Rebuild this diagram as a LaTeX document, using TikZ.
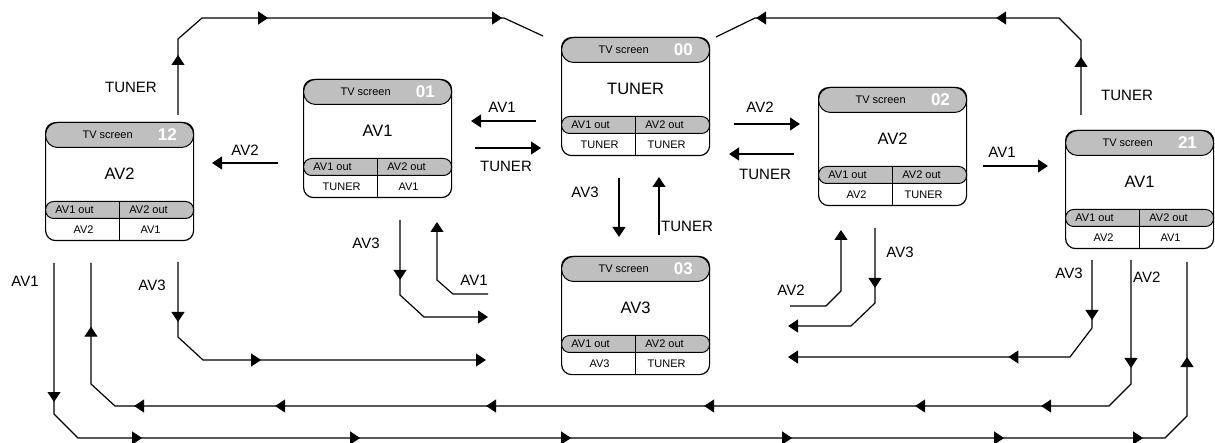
\documentclass[tikz,border=0pt]{standalone}
\usepackage{fontspec}
\setmainfont{Liberation Sans}
\usepackage{xcolor}
\usepackage{tikz}
\usetikzlibrary{arrows.meta, decorations.markings}
\tikzset{
  tvframe/.style={draw, line width=1.2pt, rounded corners=10pt, minimum width=148pt, minimum height=118pt, inner sep=0pt},
  tvhead/.style={draw, fill=gray!50, line width=1pt, rounded corners=12pt, minimum width=148pt, minimum height=25pt, inner sep=0pt},
  tvband/.style={draw, fill=gray!50, line width=1pt, rounded corners=8pt, minimum width=148pt, minimum height=17pt, inner sep=0pt},
  tvsmall/.style={font=\fontsize{11}{13}\selectfont, inner sep=0pt},
  tvmain/.style={font=\fontsize{16.5}{19}\selectfont, inner sep=0pt},
  tvnum/.style={font=\fontsize{17}{19}\selectfont\bfseries, text=white, inner sep=0pt},
  lbl/.style={font=\fontsize{15}{18}\selectfont, inner sep=0pt},
  wire/.style={line width=1.2pt},
  flow/.style={wire, -{Triangle[length=10pt, width=13pt]}},
  mid/.style={postaction={decorate, decoration={markings, mark=at position #1pt with {\arrow{Triangle[length=10pt, width=13pt]}}}}},
}
\newcommand{\tvset}[6]{%
  \node[tvframe, anchor=north west] (#1) at (#2) {};
  \node[tvhead, anchor=north] (#1-head) at (#1.north) {};
  \node[tvsmall] (#1-scr) at ([xshift=-12pt]#1-head.center) {TV screen};
  \node[tvnum, anchor=east] (#1-num) at ([xshift=-17pt]#1-head.east) {#3};
  \node[tvmain] (#1-main) at ([yshift=-52pt]#1.north) {#4};
  \node[tvband, anchor=north] (#1-band) at ([yshift=-79pt]#1.north) {};
  \draw[line width=1pt] (#1-band.north) -- (#1.south);
  \node[tvsmall] (#1-o1) at ([xshift=-45pt]#1-band.center) {AV1 out};
  \node[tvsmall] (#1-o2) at ([xshift=29pt]#1-band.center) {AV2 out};
  \node[tvsmall] (#1-v1) at ([xshift=-36pt,yshift=-11pt]#1-band.south) {#5};
  \node[tvsmall] (#1-v2) at ([xshift=31pt,yshift=-11pt]#1-band.south) {#6};
}

\begin{document}
\begin{tikzpicture}[x=1pt, y=-1pt]
  \useasboundingbox (0,0) rectangle (1215,443);
  \tvset{b12}{45,122}{12}{AV2}{AV2}{AV1}
  \tvset{b01}{303,79}{01}{AV1}{TUNER}{AV1}
  \tvset{b00}{561,37}{00}{TUNER}{TUNER}{TUNER}
  \tvset{b02}{818,87}{02}{AV2}{AV2}{TUNER}
  \tvset{b21}{1065,130}{21}{AV1}{AV2}{AV1}
  \tvset{b03}{561,256}{03}{AV3}{AV3}{TUNER}

  \coordinate (u12) at (178,115);   \coordinate (u00l) at (543,36);
  \coordinate (u21) at (1081,115);  \coordinate (u00r) at (716,37);
  \coordinate (a00w) at (536,121);  \coordinate (a01e) at (471,121);
  \coordinate (t01e) at (475,148);  \coordinate (t00w) at (541,148);
  \coordinate (a01w) at (278,163);  \coordinate (a12e) at (212,163);
  \coordinate (a00e) at (734,124);  \coordinate (a02w) at (800,124);
  \coordinate (t02w) at (794,154);  \coordinate (t00e) at (729,154);
  \coordinate (a02e) at (983,166);  \coordinate (a21w) at (1048,166);
  \coordinate (a00s) at (619,178);  \coordinate (a03n) at (619,237);
  \coordinate (t03n) at (659,235);  \coordinate (t00s) at (659,177);
  \coordinate (d01a) at (400,220);  \coordinate (d03a) at (488,317);
  \coordinate (d03b) at (488,294);  \coordinate (d01b) at (437,222);
  \coordinate (d03c) at (790,306);  \coordinate (d02c) at (841,230);
  \coordinate (d02d) at (875,228);  \coordinate (d03d) at (788,326);
  \coordinate (d21e) at (1092,260); \coordinate (d03e) at (788,357);
  \coordinate (d12f) at (178,262);  \coordinate (d03f) at (486,360);
  \coordinate (d21g) at (1131,260); \coordinate (d12g) at (91,263);
  \coordinate (d12h) at (54,263);   \coordinate (d21h) at (1187,262);

  \draw[wire, mid/.list={60,174,408}] (u12) -- (178,39) -- (202,18) -- (504,18) -- (u00l);
  \draw[wire, mid/.list={58,169,409}] (u21) -- (1081,40) -- (1059,18) -- (755,18) -- (u00r);
  \draw[flow] (a00w) -- (a01e);
  \draw[flow] (t01e) -- (t00w);
  \draw[flow] (a01w) -- (a12e);
  \draw[flow] (a00e) -- (a02w);
  \draw[flow] (t02w) -- (t00e);
  \draw[flow] (a02e) -- (a21w);
  \draw[flow] (a00s) -- (a03n);
  \draw[flow] (t03n) -- (t00s);
  \draw[flow, mid=60] (d01a) -- (400,295) -- (424,317) -- (d03a);
  \draw[flow] (d03b) -- (453,294) -- (437,280) -- (d01b);
  \draw[flow] (d03c) -- (826,306) -- (841,291) -- (d02c);
  \draw[flow, mid=60] (d02d) -- (875,303) -- (851,326) -- (d03d);
  \draw[flow, mid/.list={60,166}] (d21e) -- (1092,328) -- (1070,357) -- (d03e);
  \draw[flow, mid/.list={60,167}] (d12f) -- (178,337) -- (203,360) -- (d03f);
  \draw[wire, mid/.list={108,223,349,560,778,989,1130,1239}] (d21g) -- (1131,384) -- (1109,406) -- (115,406) -- (91,384) -- (d12g);
  \draw[wire, mid/.list={139,249,467,678,899,1111,1250,1362}] (d12h) -- (54,414) -- (78,438) -- (1165,438) -- (1187,416) -- (d21h);

  \node[lbl] (nTunL) at (131,87) {TUNER};
  \node[lbl] (nTunR) at (1127,95) {TUNER};
  \node[lbl] (nAv1a) at (502,107) {AV1};
  \node[lbl] (nTunA) at (506,166) {TUNER};
  \node[lbl] (nAv2a) at (245,150) {AV2};
  \node[lbl] (nAv2b) at (760,107) {AV2};
  \node[lbl] (nTunB) at (765,174) {TUNER};
  \node[lbl] (nAv1b) at (1002,152) {AV1};
  \node[lbl] (nAv3a) at (585,192) {AV3};
  \node[lbl, anchor=west] (nTunC) at (661,226) {TUNER};
  \node[lbl] (nAv3b) at (366,243) {AV3};
  \node[lbl] (nAv1c) at (474,280) {AV1};
  \node[lbl] (nAv3c) at (152,285) {AV3};
  \node[lbl] (nAv1d) at (25,281) {AV1};
  \node[lbl] (nAv2c) at (791,290) {AV2};
  \node[lbl] (nAv3d) at (900,252) {AV3};
  \node[lbl] (nAv3e) at (1069,273) {AV3};
  \node[lbl, anchor=west] (nAv2d) at (1133,277) {AV2};
\end{tikzpicture}
\end{document}
